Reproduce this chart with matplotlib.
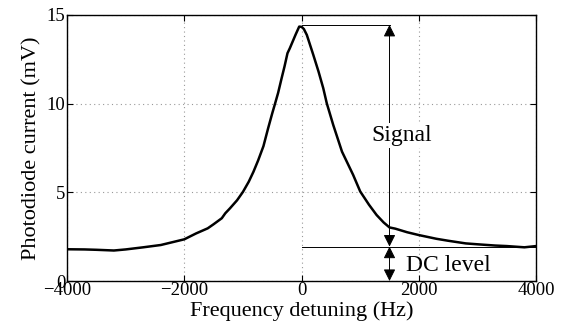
import matplotlib
matplotlib.use("Agg")
import matplotlib.pyplot as plt

# detuning (Hz) and photodiode signal (mV)
detuning = [-4000, -3700, -3500, -3200, -3000, -2700, -2400, -2000,
            -1800, -1600, -1500, -1360, -1300, -1220, -1100, -1000, -900,
            -820, -740, -650, -570, -500, -450, -400, -340, -290, -240,
            -200, -100, -40, 0, 40, 90, 200, 290, 370, 430, 540, 690,
            880, 1000, 1150, 1280, 1400, 1500, 1600, 1800, 2000, 2300,
            2500, 2800, 3000, 3300, 3500, 3800, 4000]
current = [1.79, 1.78, 1.76, 1.72, 1.78, 1.9, 2.03, 2.35,
           2.68, 2.97, 3.2, 3.54, 3.82, 4.1, 4.55, 5.02, 5.6,
           6.16, 6.8, 7.6, 8.61, 9.45, 10.02, 10.6, 11.43, 12.1, 12.84,
           13.12, 13.9, 14.34, 14.33, 14.2, 13.87, 12.75, 11.8, 10.87, 10.02,
           8.8, 7.29, 5.98, 5.05, 4.3, 3.72, 3.3, 3.02, 2.95, 2.75, 2.59,
           2.38, 2.27, 2.12, 2.07, 2.0, 1.97, 1.9, 1.97]

peak_level = 14.44
dc_level = 1.94
arrow_x = 1500
xticks = [-4000, -2000, 0, 2000, 4000]
yticks = [0, 5, 10, 15]

plt.rcParams["font.family"] = ["Liberation Serif", "DejaVu Serif"]

fig = plt.figure(figsize=(5.74, 3.31), dpi=100)
ax = fig.add_axes([0.1167, 0.151, 0.8173, 0.804])

ax.plot(detuning, current, color="black", lw=1.8, zorder=3)

# reference lines for peak and DC level
ax.plot([0, arrow_x], [peak_level, peak_level], color="black", lw=0.7)
ax.plot([0, 4000], [dc_level, dc_level], color="black", lw=0.7)

arr = dict(arrowstyle="<|-|>,head_length=0.6,head_width=0.3", color="black",
           lw=0.7, mutation_scale=12, shrinkA=0, shrinkB=0)
ax.annotate("", xy=(arrow_x, peak_level), xytext=(arrow_x, dc_level),
            arrowprops=arr)
ax.annotate("", xy=(arrow_x, dc_level), xytext=(arrow_x, 0),
            arrowprops=arr)

ax.text(1715, 8.2, "Signal", fontsize=17, ha="center", va="center", zorder=4,
        bbox=dict(facecolor="white", edgecolor="none", pad=1.5))
ax.text(2510, 0.9, "DC level", fontsize=17, ha="center", va="center", zorder=4)

ax.set_xlim(-4000, 4000)
ax.set_ylim(0, 15)
ax.set_xticks(xticks)
ax.set_yticks(yticks)
ax.set_xticklabels(["\u22124000", "\u22122000", "0", "2000", "4000"])
ax.tick_params(direction="in", top=True, right=True, labelsize=13.5,
               length=4, width=0.8, pad=1)
ax.grid(True, color="#999999", linestyle=(0, (1, 3)), lw=0.8)
for s in ax.spines.values():
    s.set_linewidth(1.0)

ax.set_xlabel("Frequency detuning (Hz)", fontsize=16, labelpad=1)
ax.set_ylabel("Photodiode current (mV)", fontsize=16, labelpad=4)

fig.savefig("out.png", dpi=100, facecolor="white")
